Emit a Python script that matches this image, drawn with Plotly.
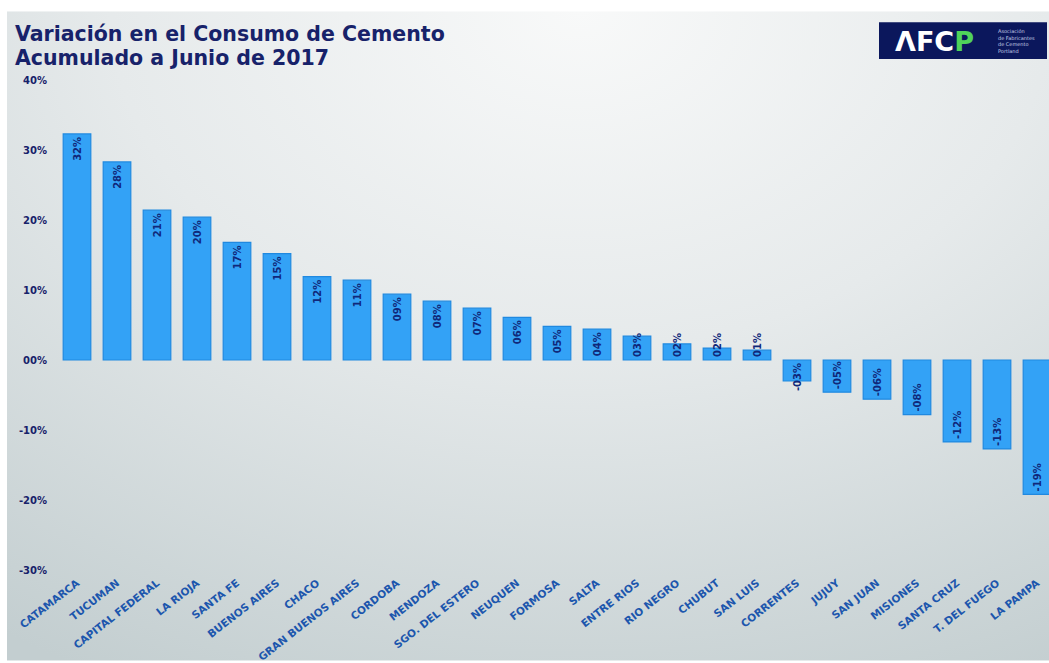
import base64
import plotly.graph_objects as go

provincias = ["CATAMARCA", "TUCUMAN", "CAPITAL FEDERAL", "LA RIOJA", "SANTA FE",
              "BUENOS AIRES", "CHACO", "GRAN BUENOS AIRES", "CORDOBA", "MENDOZA",
              "SGO. DEL ESTERO", "NEUQUEN", "FORMOSA", "SALTA", "ENTRE RIOS",
              "RIO NEGRO", "CHUBUT", "SAN LUIS", "CORRENTES", "JUJUY", "SAN JUAN",
              "MISIONES", "SANTA CRUZ", "T. DEL FUEGO", "LA PAMPA"]
variacion = [32.3, 28.3, 21.4, 20.4, 16.8, 15.2, 11.9, 11.4, 9.4, 8.4, 7.4, 6.1,
             4.8, 4.4, 3.4, 2.3, 1.7, 1.4, -3.0, -4.6, -5.6, -7.8, -11.7, -12.7, -19.2]
y_ticks = [40, 30, 20, 10, 0, -10, -20, -30]
y_ticktext = ["40%", "30%", "20%", "10%", "00%", "-10%", "-20%", "-30%"]


def fmt(v):
    r = int(round(v))
    return f"{r:02d}%" if r >= 0 else f"{r:03d}%"


labels = [fmt(v) for v in variacion]

# bars too short to hold their label start the label at the base
SHORT = 4.0
big_y = [v if abs(v) >= SHORT else None for v in variacion]
big_t = [t if abs(v) >= SHORT else "" for v, t in zip(variacion, labels)]
small_y = [v if abs(v) < SHORT else None for v in variacion]
small_t = [t if abs(v) < SHORT else "" for v, t in zip(variacion, labels)]

NAVY = "#17226a"
BAR = dict(color="#33a2f6", line=dict(color="#2089e0", width=1.2))
TXT = dict(family="DejaVu Sans", size=10, color="#10287a", weight="bold")

fig = go.Figure()
fig.add_trace(go.Bar(
    x=provincias, y=big_y, text=big_t,
    textposition="inside", insidetextanchor="end", textangle=-90,
    constraintext="none", textfont=TXT, marker=BAR, cliponaxis=False,
    hoverinfo="x+y",
))
fig.add_trace(go.Bar(
    x=provincias, y=small_y, text=small_t,
    textposition="inside", insidetextanchor="start", textangle=-90,
    constraintext="none", textfont=TXT, marker=BAR, cliponaxis=False,
    hoverinfo="x+y",
))

W, H = 1049, 663
L, R, T, B = 57, 0, 80, 91
PW, PH = W - L - R, H - T - B


def px(x):
    return (x - L) / PW


def py(y):
    return (H - B - y) / PH


fig.update_layout(
    width=W, height=H,
    margin=dict(l=L, r=R, t=T, b=B),
    paper_bgcolor="white",
    plot_bgcolor="rgba(0,0,0,0)",
    barmode="overlay",
    bargap=0.31,
    showlegend=False,
    font=dict(family="DejaVu Sans", color=NAVY),
    xaxis=dict(
        range=[-0.5, 24.3], showgrid=False, zeroline=False, showline=False,
        tickangle=-38, ticks="", ticklabelstandoff=4,
        tickfont=dict(family="DejaVu Sans", size=10.5, color="#1c56ad", weight="bold"),
    ),
    yaxis=dict(
        range=[-30, 40], tickvals=y_ticks, ticktext=y_ticktext,
        showgrid=False, zeroline=False, showline=False, ticks="",
        ticklabelstandoff=9,
        tickfont=dict(family="DejaVu Sans", size=10, color=NAVY, weight="bold"),
    ),
)

# soft grey background gradient (light near the top centre)
svg = (
    "<svg xmlns='http://www.w3.org/2000/svg' width='1042' height='652' "
    "preserveAspectRatio='none'>"
    "<defs><radialGradient id='g' cx='0.55' cy='0.0' r='1.0' "
    "gradientTransform='translate(0.55 0) scale(1 1.15) translate(-0.55 0)'>"
    "<stop offset='0' stop-color='#f8f9f9'/>"
    "<stop offset='0.45' stop-color='#e6eaeb'/>"
    "<stop offset='1' stop-color='#c3ced0'/>"
    "</radialGradient></defs>"
    "<rect width='1042' height='652' fill='url(#g)'/></svg>"
)
src = "data:image/svg+xml;base64," + base64.b64encode(svg.encode()).decode()
fig.add_layout_image(
    source=src, xref="paper", yref="paper",
    x=px(7), y=py(11), sizex=px(W) - px(7), sizey=py(11) - py(H),
    xanchor="left", yanchor="top", sizing="stretch", layer="below",
)

# title (two lines, tight spacing as in the original)
TITLE_FONT = dict(family="DejaVu Sans", size=20.5, color=NAVY, weight="bold")
fig.add_annotation(
    xref="paper", yref="paper", x=px(13), y=py(34), xanchor="left", yanchor="middle",
    showarrow=False, text="Variación en el Consumo de Cemento", font=TITLE_FONT,
)
fig.add_annotation(
    xref="paper", yref="paper", x=px(13), y=py(58), xanchor="left", yanchor="middle",
    showarrow=False, text="Acumulado a Junio de 2017", font=TITLE_FONT,
)

# AFCP logo box
fig.add_shape(type="rect", xref="paper", yref="paper",
              x0=px(879), x1=px(1047), y0=py(59), y1=py(22),
              fillcolor="#0b175c", line=dict(width=0))
fig.add_annotation(
    xref="paper", yref="paper", x=px(893), y=py(41),
    xanchor="left", yanchor="middle", showarrow=False,
    text="ΛFC<span style='color:#4fd35a'>P</span>",
    font=dict(family="DejaVu Sans", size=27, color="white", weight="bold"),
)
fig.add_annotation(
    xref="paper", yref="paper", x=px(996), y=py(41),
    xanchor="left", yanchor="middle", showarrow=False, align="left",
    text="Asociación<br>de Fabricantes<br>de Cemento<br>Portland",
    font=dict(family="DejaVu Sans", size=5, color="#c8d0e8"),
)

fig.write_html("out.html", config={"displayModeBar": False},
               post_script="document.body.style.margin='0';")
